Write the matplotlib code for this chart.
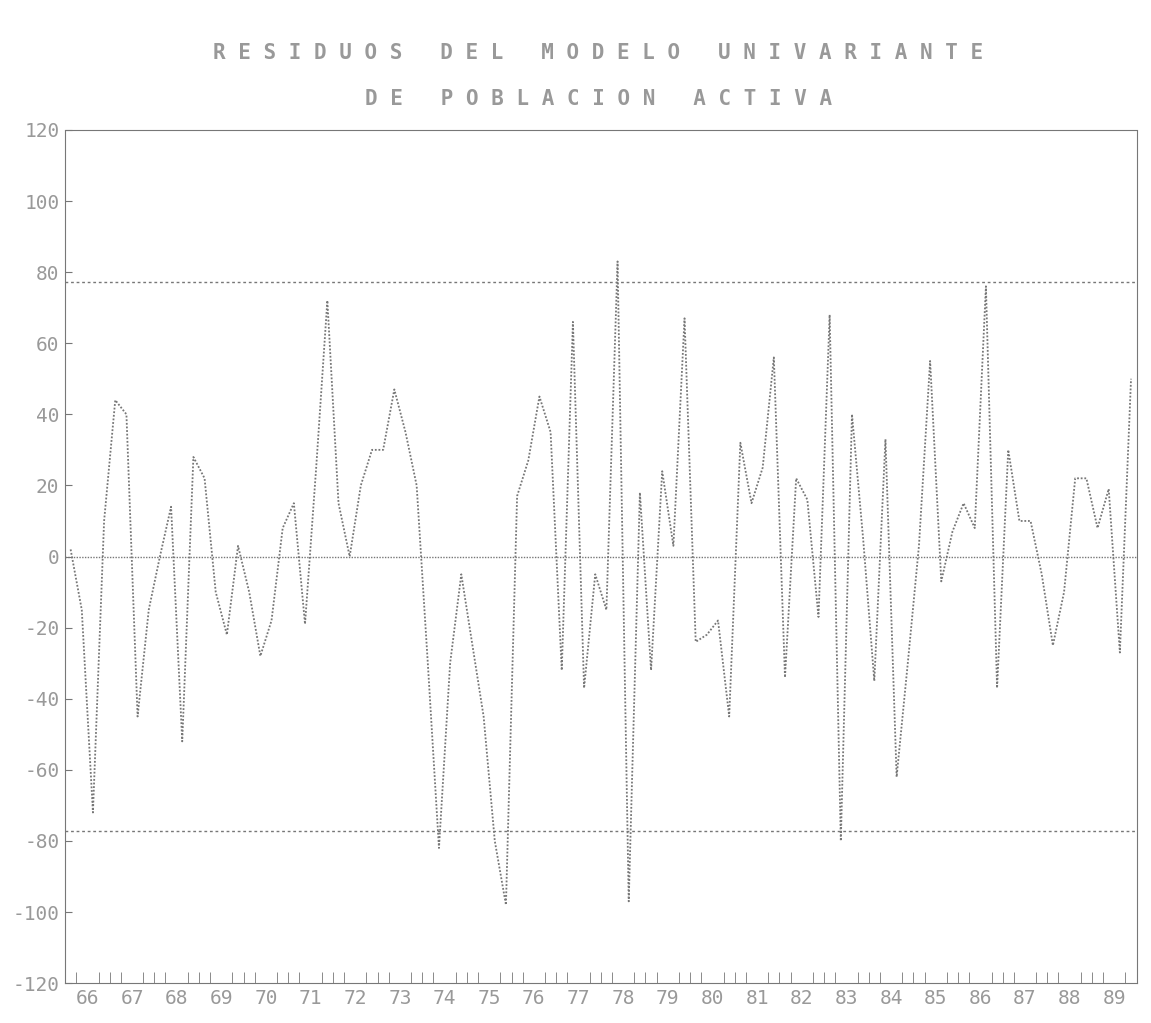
import matplotlib
matplotlib.use("Agg")
import matplotlib.pyplot as plt
import numpy as np

years = [str(y) for y in range(66, 90)]
residuals = [2, -15, -72, 10, 44, 40, -45, -15, 0, 14, -52, 28, 22, -10, -22, 3,
             -10, -28, -18, 8, 15, -19, 25, 72, 15, 0, 20, 30, 30, 47, 35, 20,
             -30, -82, -30, -5, -25, -45, -80, -98, 17, 27, 45, 35, -32, 66, -37, -5,
             -15, 83, -97, 18, -32, 24, 3, 67, -24, -22, -18, -45, 32, 15, 25, 56,
             -34, 22, 16, -17, 68, -80, 40, 5, -35, 33, -62, -30, 3, 55, -7, 7,
             15, 8, 76, -37, 30, 10, 10, -5, -25, -10, 22, 22, 8, 19, -27, 50]
band = 77.3
title1 = "RESIDUOS DEL MODELO UNIVARIANTE"
title2 = "DE POBLACION ACTIVA"

def spaced(s):
    return "   ".join(" ".join(w) for w in s.split(" "))

fig = plt.figure(figsize=(11.51, 10.23), dpi=100)
ax = fig.add_axes([0.0565, 0.039, 0.931, 0.834])
n = len(residuals)
x = np.arange(n) * 0.25 + 0.125
col = "#777777"
ax.plot(x, residuals, color=col, lw=1.3, ls=(0, (1, 1)))
ax.axhline(0, color=col, lw=1, ls=(0, (1, 1)))
ax.axhline(band, color=col, lw=1, ls=(0, (2, 2)))
ax.axhline(-band, color=col, lw=1, ls=(0, (2, 2)))
ax.set_xlim(0, 24)
ax.set_ylim(-120, 120)
ax.set_yticks(range(-120, 121, 20))
ax.set_yticklabels([str(v) for v in range(-120, 121, 20)], fontsize=14,
                   color="#999999", family="DejaVu Sans Mono")
ax.set_xticks(np.arange(24) + 0.5)
ax.set_xticklabels(years, fontsize=14, color="#999999", family="DejaVu Sans Mono")
ax.set_xticks(np.arange(0, 24.01, 0.25), minor=True)
ax.tick_params(axis="x", which="major", length=0, pad=4)
ax.tick_params(axis="x", which="minor", length=8, direction="in", color=col)
ax.tick_params(axis="y", length=5, direction="in", color=col, pad=4)
for s in ax.spines.values():
    s.set_color(col)
    s.set_linestyle((0, (1, 1)))
fig.text(0.52, 0.942, spaced(title1), ha="center", fontsize=15,
         color="#999999", family="DejaVu Sans Mono", weight="bold")
fig.text(0.52, 0.897, spaced(title2), ha="center", fontsize=15,
         color="#999999", family="DejaVu Sans Mono", weight="bold")
fig.savefig("out.png", dpi=100)
